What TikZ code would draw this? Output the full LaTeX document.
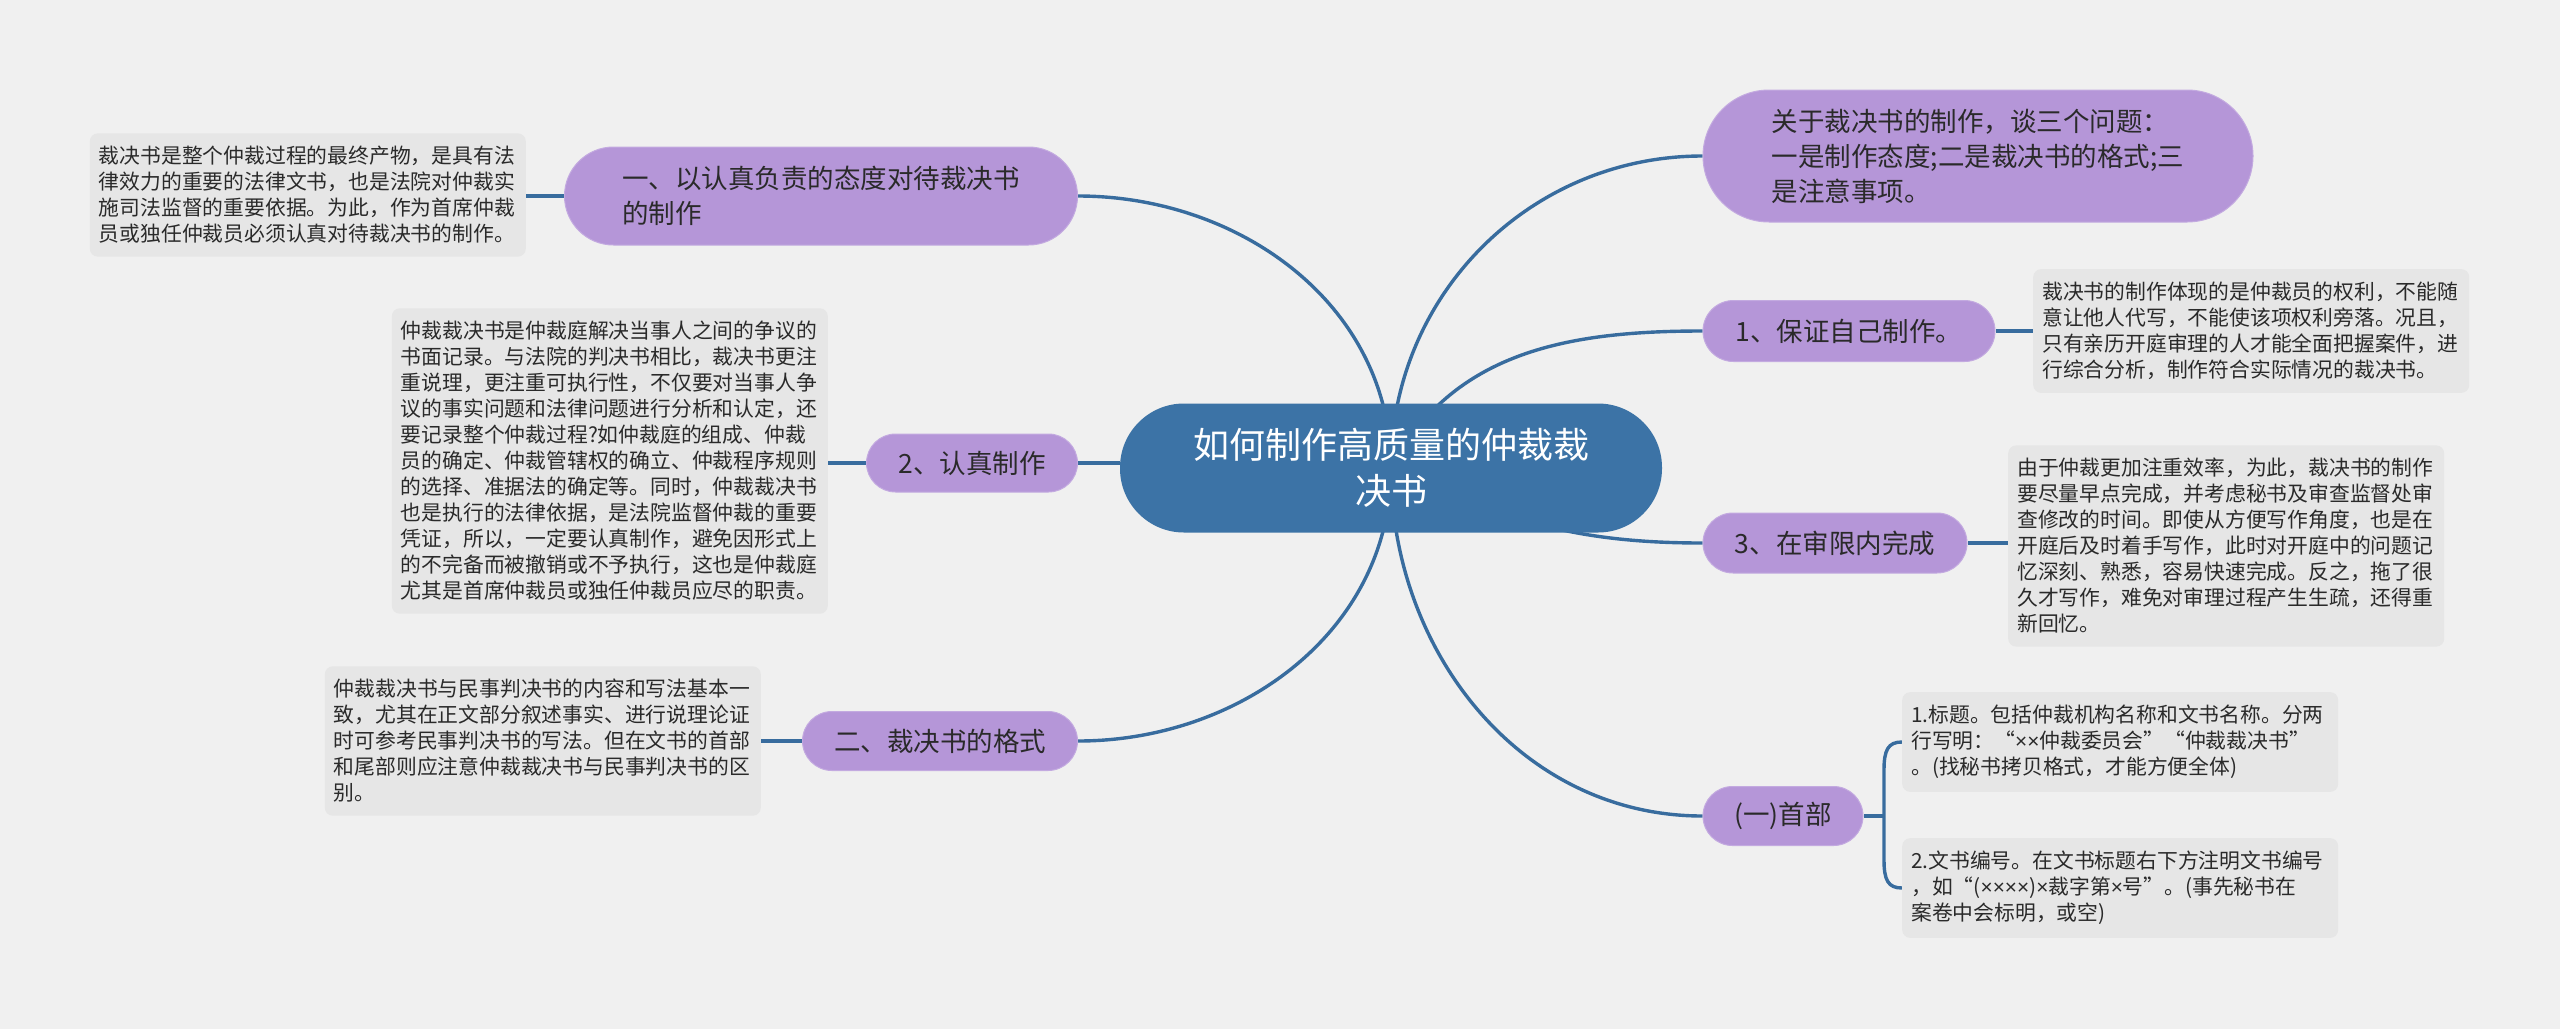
\documentclass[tikz,border=0pt]{standalone}
\usepackage{fontspec}
\setmainfont{Noto Sans CJK SC}
\newfontfamily\latf{Liberation Sans}
\newcommand{\xx}{{\latf ×}}
\usetikzlibrary{calc}
\definecolor{bgc}{HTML}{F0F0F0}
\definecolor{linec}{HTML}{386C9E}
\definecolor{rootc}{HTML}{3C73A6}
\definecolor{purp}{HTML}{B596D8}
\definecolor{purpb}{HTML}{C3AAE0}
\definecolor{leafc}{HTML}{E6E6E6}
\definecolor{txt}{HTML}{2A2A2A}
\pgfdeclarelayer{bg}
\pgfdeclarelayer{edges}
\pgfsetlayers{bg,edges,main}
\begin{document}
\begin{tikzpicture}[x=1pt,y=-1pt,
  root/.style={fill=rootc, text=white, rounded corners=64, minimum width=542, minimum height=129, align=center, font=\fontsize{36}{46}\selectfont, inner sep=0},
  topic/.style={fill=purp, draw=purpb, line width=1, text=txt, align=left, font=\fontsize{26.5}{35}\selectfont, inner ysep=0, inner xsep=20},
  leaf/.style={fill=leafc, text=txt, align=left, text width=418, inner xsep=9, inner ysep=13, rounded corners=8, font=\fontsize{20.8}{26}\selectfont},
  conn/.style={draw=linec, line width=3.4}
]
\useasboundingbox (0,0) rectangle (2560,1029);
\begin{pgfonlayer}{bg}
\fill[bgc] (0,0) rectangle (2560,1029);
\end{pgfonlayer}

% root
\node[root] (root) at (1391,468) {如何制作高质量的仲裁裁\\决书};

% left topics
\node[topic, minimum width=513, minimum height=98, rounded corners=49] (n1) at (821,196) {一、以认真负责的态度对待裁决书\\的制作};
\node[topic, minimum width=211, minimum height=58, rounded corners=29] (n2) at (972,463) {2、认真制作};
\node[topic, minimum width=275, minimum height=59, rounded corners=29.5] (n3) at (940,741) {二、裁决书的格式};

% right topics
\node[topic, minimum width=550, minimum height=132, rounded corners=66] (r0) at (1978,156) {关于裁决书的制作，谈三个问题：\\一是制作态度;二是裁决书的格式;三\\是注意事项。};
\node[topic, minimum width=292, minimum height=61, rounded corners=30.5] (r1) at (1849,331) {1、保证自己制作。};
\node[topic, minimum width=264, minimum height=60, rounded corners=30] (r3) at (1835,543) {3、在审限内完成};
\node[topic, minimum width=160, minimum height=59, rounded corners=29.5] (r4) at (1783,816) {(一)首部};

% leaves
\node[leaf, anchor=east] (l1) at (526,195) {裁决书是整个仲裁过程的最终产物，是具有法\\律效力的重要的法律文书，也是法院对仲裁实\\施司法监督的重要依据。为此，作为首席仲裁\\员或独任仲裁员必须认真对待裁决书的制作。};
\node[leaf, anchor=east] (l2) at (828,461) {仲裁裁决书是仲裁庭解决当事人之间的争议的\\书面记录。与法院的判决书相比，裁决书更注\\重说理，更注重可执行性，不仅要对当事人争\\议的事实问题和法律问题进行分析和认定，还\\要记录整个仲裁过程?如仲裁庭的组成、仲裁\\员的确定、仲裁管辖权的确立、仲裁程序规则\\的选择、准据法的确定等。同时，仲裁裁决书\\也是执行的法律依据，是法院监督仲裁的重要\\凭证，所以，一定要认真制作，避免因形式上\\的不完备而被撤销或不予执行，这也是仲裁庭\\尤其是首席仲裁员或独任仲裁员应尽的职责。};
\node[leaf, anchor=east] (l3) at (761,741) {仲裁裁决书与民事判决书的内容和写法基本一\\致，尤其在正文部分叙述事实、进行说理论证\\时可参考民事判决书的写法。但在文书的首部\\和尾部则应注意仲裁裁决书与民事判决书的区\\别。};
\node[leaf, anchor=west] (rl1) at (2033,331) {裁决书的制作体现的是仲裁员的权利，不能随\\意让他人代写，不能使该项权利旁落。况且，\\只有亲历开庭审理的人才能全面把握案件，进\\行综合分析，制作符合实际情况的裁决书。};
\node[leaf, anchor=west] (rl3) at (2008,546) {由于仲裁更加注重效率，为此，裁决书的制作\\要尽量早点完成，并考虑秘书及审查监督处审\\查修改的时间。即使从方便写作角度，也是在\\开庭后及时着手写作，此时对开庭中的问题记\\忆深刻、熟悉，容易快速完成。反之，拖了很\\久才写作，难免对审理过程产生生疏，还得重\\新回忆。};
\node[leaf, anchor=west] (la) at (1902,742) {1.标题。包括仲裁机构名称和文书名称。分两\\行写明：“\xx\xx 仲裁委员会”“仲裁裁决书”\\。(找秘书拷贝格式，才能方便全体)};
\node[leaf, anchor=west] (lb) at (1902,888) {2.文书编号。在文书标题右下方注明文书编号\\，如“(\xx\xx\xx\xx)\xx 裁字第\xx 号”。(事先秘书在\\案卷中会标明，或空)};

\coordinate (br) at (1884,816);

\begin{pgfonlayer}{edges}
\draw[conn] (root.center) to[out=90,in=0] (n1.east);
\draw[conn] (n2.east) -- (n2.east -| root.west);
\draw[conn] (root.center) to[out=-90,in=0] (n3.east);
\draw[conn] (root.center) to[out=90,in=180] (r0.west);
\draw[conn] (root.center) to[out=62,in=180] (r1.west);
\draw[conn] (root.center) to[out=-25,in=180] (r3.west);
\draw[conn] (root.center) to[out=-90,in=180] (r4.west);
\draw[conn] (n1.west) -- (l1.east |- n1.west);
\draw[conn] (n2.west) -- (l2.east |- n2.west);
\draw[conn] (n3.west) -- (l3.east |- n3.west);
\draw[conn] (r1.east) -- (rl1.west |- r1.east);
\draw[conn] (r3.east) -- (rl3.west |- r3.east);
\draw[conn] (r4.east) -- (br);
\draw[conn] (la.west) .. controls ($(la.west)+(-14,0)$) and ($(br |- la.west)+(0,8)$) .. ($(br |- la.west)+(0,28)$) -- ($(br |- lb.west)+(0,-28)$) .. controls ($(br |- lb.west)+(0,-8)$) and ($(lb.west)+(-14,0)$) .. (lb.west);
\end{pgfonlayer}
\end{tikzpicture}
\end{document}
